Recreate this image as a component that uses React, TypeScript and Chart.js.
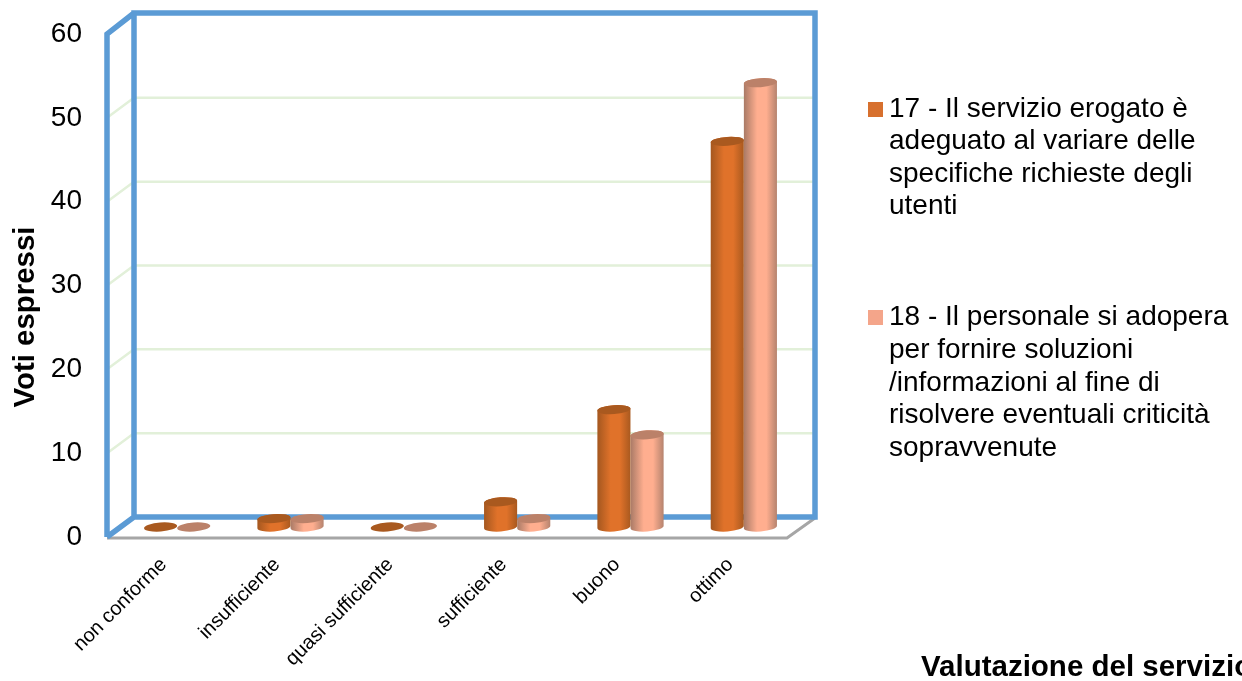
import React, { useEffect, useRef } from "react";
import { Chart, BarController, BarElement, CategoryScale, LinearScale } from "chart.js";

const categories = ["non conforme", "insufficiente", "quasi sufficiente", "sufficiente", "buono", "ottimo"];
const values17 = [0, 1, 0, 3, 14, 46];
const values18 = [0, 1, 0, 1, 11, 53];
const name17 = "17 - Il servizio erogato è adeguato al variare delle specifiche richieste degli utenti";
const name18 = "18 - Il personale si adopera per fornire soluzioni /informazioni al fine di risolvere eventuali criticità sopravvenute";
const legend17 = ["17 - Il servizio erogato è", "adeguato al variare delle", "specifiche richieste degli", "utenti"];
const legend18 = ["18 - Il personale si adopera", "per fornire soluzioni", "/informazioni al fine di", "risolvere eventuali criticità", "sopravvenute"];
const yTitle = "Voti espressi";
const xTitle = "Valutazione del servizio";

const FONT = '"Liberation Sans", Arial, sans-serif';
const DEPTH_X = 27;
const DEPTH_Y = 20;
const TILT = (-4 * Math.PI) / 180;
const RY = 4.5;

// Palette per series: shaded edge, lit centre, far edge, top cap, legend swatch.
const skins = [
  { edge: "#a4571f", lit: "#e0722a", far: "#a9591f", cap: "#a9591f", swatch: "#d7702e" },
  { edge: "#a97a66", lit: "#ffae8f", far: "#b5836e", cap: "#bb8169", swatch: "#f4a58a" },
];

// A bar element painted as a cylinder standing in the middle of the floor's depth.
class CylinderBar extends BarElement {
  static id = "cylinderBar";
  draw(ctx: CanvasRenderingContext2D) {
    const { x, y, base, width } = (this as any).getProps(["x", "y", "base", "width"]);
    const colour = (this as any).options.backgroundColor;
    const skin = skins.find((s) => s.swatch === colour) ?? skins[0];
    const cx = x + DEPTH_X / 2;
    const top = y - DEPTH_Y / 2;
    const bottom = base - DEPTH_Y / 2;
    const rx = width / 2;
    ctx.save();
    if (bottom - top > 0.5) {
      const g = ctx.createLinearGradient(cx - rx, 0, cx + rx, 0);
      g.addColorStop(0, skin.edge);
      g.addColorStop(0.4, skin.lit);
      g.addColorStop(0.68, skin.lit);
      g.addColorStop(1, skin.far);
      ctx.fillStyle = g;
      ctx.beginPath();
      ctx.ellipse(cx, bottom, rx, RY, TILT, Math.PI, 0, true);
      ctx.ellipse(cx, top, rx, RY, TILT, 0, Math.PI, true);
      ctx.closePath();
      ctx.fill();
    }
    ctx.fillStyle = skin.cap;
    ctx.beginPath();
    ctx.ellipse(cx, top, rx, RY, TILT, 0, Math.PI * 2);
    ctx.fill();
    ctx.restore();
  }
}

class CylinderController extends BarController {
  static id = "cylinder";
  static defaults = { ...BarController.defaults, dataElementType: "cylinderBar" };
}

// Back wall, side wall, floor and the gridlines running across them.
const framePlugin = {
  id: "frame",
  beforeDatasetsDraw(chart: any) {
    const { ctx, scales } = chart;
    const xs = scales.x;
    const ys = scales.y;
    const l = xs.left;
    const r = xs.right;
    const b = ys.getPixelForValue(0);
    const t = ys.getPixelForValue(60);
    ctx.save();
    ctx.lineCap = "butt";
    ctx.lineJoin = "miter";

    ctx.strokeStyle = "#e2f0d9";
    ctx.lineWidth = 2.5;
    for (const tick of ys.ticks) {
      if (tick.value === 0 || tick.value === 60) continue;
      const py = ys.getPixelForValue(tick.value);
      ctx.beginPath();
      ctx.moveTo(l, py);
      ctx.lineTo(l + DEPTH_X, py - DEPTH_Y);
      ctx.lineTo(r + DEPTH_X + 1, py - DEPTH_Y);
      ctx.stroke();
    }

    ctx.strokeStyle = "#a6a6a6";
    ctx.lineWidth = 3;
    ctx.beginPath();
    ctx.moveTo(l, b + 1);
    ctx.lineTo(r, b + 1);
    ctx.lineTo(r + DEPTH_X + 1, b - DEPTH_Y + 1);
    ctx.stroke();

    ctx.strokeStyle = "#5b9bd5";
    ctx.lineWidth = 5.5;
    ctx.beginPath();
    ctx.rect(l + DEPTH_X, t - DEPTH_Y - 1, r - l + 1, b - t + 1);
    ctx.moveTo(l, b);
    ctx.lineTo(l, t);
    ctx.lineTo(l + DEPTH_X, t - DEPTH_Y - 1);
    ctx.moveTo(l, b);
    ctx.lineTo(l + DEPTH_X, b - DEPTH_Y);
    ctx.stroke();
    ctx.restore();
  },
};

// Axis titles and the wrapped legend entries beside the plot.
const annotationPlugin = {
  id: "annotations",
  afterDraw(chart: any) {
    const { ctx } = chart;
    ctx.save();
    ctx.fillStyle = "#000000";
    ctx.textBaseline = "alphabetic";
    ctx.textAlign = "left";

    ctx.font = `28px ${FONT}`;
    const blocks: [string[], number, number[]][] = [
      [legend17, 0, [117, 149, 182, 214]],
      [legend18, 1, [325, 358, 391, 423, 456]],
    ];
    for (const [lines, idx, rows] of blocks) {
      ctx.fillStyle = skins[idx].swatch;
      ctx.fillRect(868, rows[0] - 15, 15, 15);
      ctx.fillStyle = "#000000";
      lines.forEach((line, i) => ctx.fillText(line, 889, rows[i]));
    }

    ctx.font = `bold 29.5px ${FONT}`;
    ctx.fillText(xTitle, 921, 676);

    ctx.font = `bold 29.4px ${FONT}`;
    ctx.translate(34, 317);
    ctx.rotate(-Math.PI / 2);
    ctx.textAlign = "center";
    ctx.fillText(yTitle, 0, 0);
    ctx.restore();
  },
};

Chart.register(CategoryScale, LinearScale, BarElement, BarController, CylinderBar as any, CylinderController as any);

export default function App() {
  const ref = useRef<HTMLCanvasElement>(null);
  useEffect(() => {
    const chart = new Chart(ref.current!, {
      type: "cylinder" as any,
      data: {
        labels: categories,
        datasets: [
          { label: name17, data: values17, backgroundColor: skins[0].swatch },
          { label: name18, data: values18, backgroundColor: skins[1].swatch },
        ],
      },
      options: {
        animation: false,
        responsive: false,
        events: [],
        datasets: { cylinder: { categoryPercentage: 0.585, barPercentage: 1 } } as any,
        layout: { autoPadding: false, padding: { left: 12, right: 455, top: 34, bottom: 4 } },
        plugins: { legend: { display: false }, tooltip: { enabled: false }, title: { display: false } },
        scales: {
          x: {
            type: "category",
            grid: { display: false },
            border: { display: false },
            afterFit(scale: any) {
              scale.height = 140;
            },
            ticks: {
              maxRotation: 45,
              minRotation: 45,
              autoSkip: false,
              padding: 8,
              color: "#000000",
              font: { family: FONT, size: 20 },
            },
          },
          y: {
            type: "linear",
            min: 0,
            max: 60,
            grid: { display: false },
            border: { display: false },
            afterFit(scale: any) {
              scale.width = 95;
            },
            ticks: {
              stepSize: 10,
              padding: 17,
              color: "#000000",
              font: { family: FONT, size: 28 },
            },
          },
        },
      },
      plugins: [framePlugin, annotationPlugin],
    } as any);
    return () => chart.destroy();
  }, []);
  return (
    <div style={{ position: "fixed", left: 0, top: 0, width: 1242, height: 681, background: "#ffffff", overflow: "hidden" }}>
      <canvas ref={ref} width={1242} height={681} style={{ display: "block" }} />
    </div>
  );
}
